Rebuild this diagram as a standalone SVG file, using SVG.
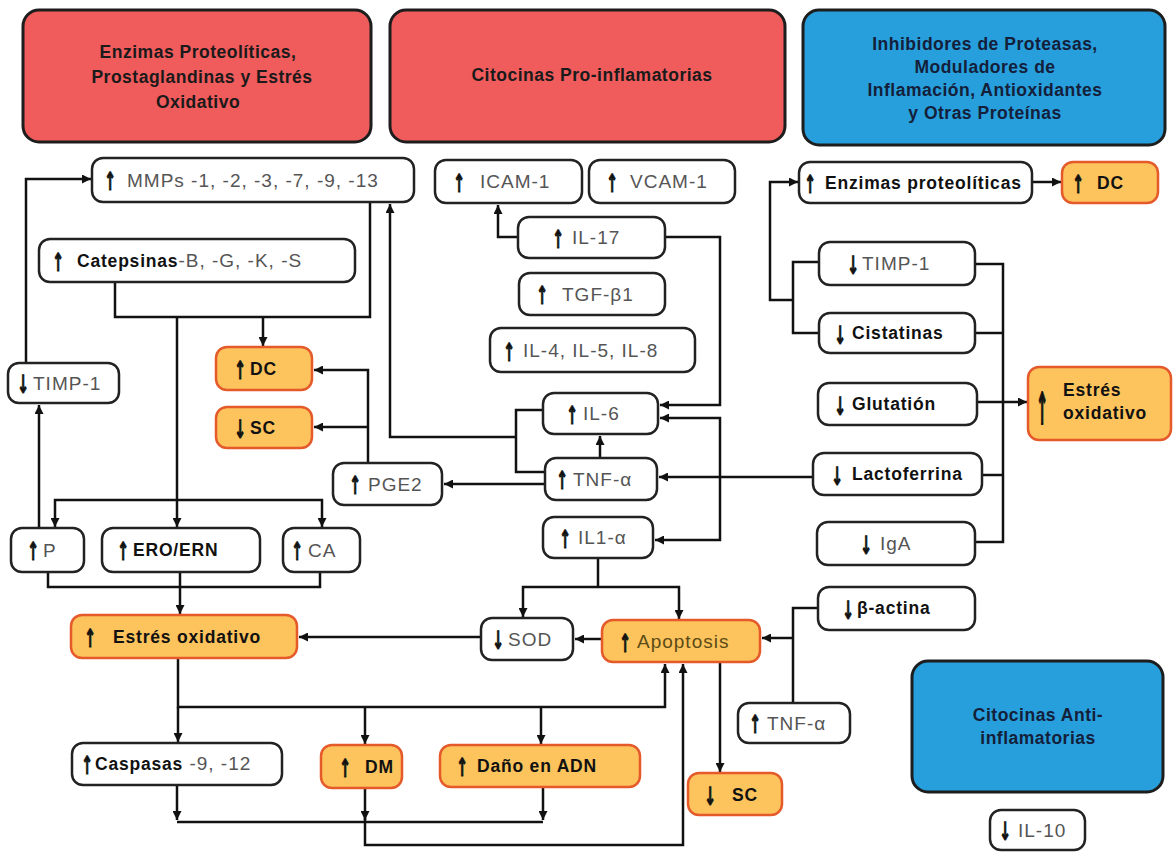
<svg xmlns="http://www.w3.org/2000/svg" width="1173" height="853" viewBox="0 0 1173 853">
<defs>
<marker id="ah" viewBox="0 0 10 10" refX="10" refY="5" markerWidth="9" markerHeight="9" markerUnits="userSpaceOnUse" orient="auto-start-reverse"><path d="M0,0 L10,5 L0,10 z" fill="#111"/></marker>
<style>
.hr{fill:#F05B5C;stroke:#1d1d1d;stroke-width:3}
.hb{fill:#279FDC;stroke:#1d1d1d;stroke-width:3}
.ht{font-family:"Liberation Sans",Arial,sans-serif;font-weight:bold;font-size:17.5px;fill:#1a1a1a;text-anchor:middle;letter-spacing:0.5px}
.hbt{fill:#14203a}
.n{fill:#fff;stroke:#222;stroke-width:2.5}
.o{fill:#FDC35C;stroke:#E55A2B;stroke-width:2.5}
.b{font-family:"Liberation Sans",Arial,sans-serif;font-weight:bold;font-size:17.5px;fill:#111;letter-spacing:0.8px}
.g{font-family:"Liberation Sans",Arial,sans-serif;font-size:19px;fill:#555;letter-spacing:1px}
.ap{font-family:"Liberation Sans",Arial,sans-serif;font-size:19px;fill:#5b4b16;letter-spacing:1px}
.ar{font-family:"DejaVu Sans",sans-serif;font-weight:bold;font-size:20px;fill:#111;stroke:#111;stroke-width:0.8px;text-anchor:middle}
.c{fill:none;stroke:#111;stroke-width:2.5}
.c.e{marker-end:url(#ah)}
.c.s{marker-start:url(#ah)}
</style>
</defs>

<g id="headers">
<g id="h1"><rect class="hr" x="23" y="10" width="348" height="132" rx="16"/>
<text class="ht" x="198" y="58">Enzimas Proteolíticas,</text>
<text class="ht" x="202" y="83">Prostaglandinas y Estrés</text>
<text class="ht" x="198" y="108">Oxidativo</text></g>
<g id="h2"><rect class="hr" x="390" y="10" width="395" height="132" rx="16"/>
<text class="ht" x="592" y="81">Citocinas Pro-inflamatorias</text></g>
<g id="h3"><rect class="hb" x="803" y="10" width="362" height="135" rx="16"/>
<text class="ht hbt" x="985" y="50">Inhibidores de Proteasas,</text>
<text class="ht hbt" x="985" y="73">Moduladores de</text>
<text class="ht hbt" x="985" y="96">Inflamación, Antioxidantes</text>
<text class="ht hbt" x="985" y="119">y Otras Proteínas</text></g>
<g id="h4"><rect class="hb" x="912" y="661" width="251" height="131" rx="16"/>
<text class="ht hbt" x="1038" y="721">Citocinas Anti-</text>
<text class="ht hbt" x="1038" y="744">inflamatorias</text></g>
</g>

<g id="connectors">
<path class="c e" d="M26,363 V179 H91"/>
<path class="c e" d="M39,528 V405"/>
<path class="c" d="M115,282 V317 H370 V202"/>
<path class="c e" d="M263,317 V346"/>
<path class="c e" d="M177,317 V527"/>
<path class="c e s" d="M55,527 V500 H322 V527"/>
<path class="c" d="M48,572 V587 H320 V572"/>
<path class="c e" d="M180,572 V614"/>
<path class="c e" d="M481,637 H299"/>
<path class="c e" d="M602,639 H575"/>
<path class="c" d="M598,558 V587"/>
<path class="c e s" d="M523,617 V587 H679 V619"/>
<path class="c e" d="M178,658 V707 H665 V664"/>
<path class="c e" d="M178,707 V742"/>
<path class="c e" d="M365,707 V744"/>
<path class="c e" d="M541,707 V744"/>
<path class="c e" d="M177,785 V820"/>
<path class="c e" d="M543,787 V820"/>
<path class="c e" d="M365,788 V820"/>
<path class="c" d="M177,822 H543"/>
<path class="c e" d="M365,818 V845 H683 V664"/>
<path class="c e" d="M720,662 V772"/>
<path class="c e" d="M368,463 V370 H314"/>
<path class="c e" d="M368,427 H314"/>
<path class="c e" d="M545,484 H444"/>
<path class="c" d="M543,410 H516 V472 H545"/>
<path class="c e" d="M516,437 H390 V204"/>
<path class="c e" d="M600,458 V436"/>
<path class="c e" d="M518,237 H498 V205"/>
<path class="c e" d="M665,237 H720 V405 H660"/>
<path class="c e s" d="M660,418 H720 V540 H655"/>
<path class="c e" d="M813,477 H659"/>
<path class="c" d="M975,264 H1003 V542 H975"/>
<path class="c" d="M975,333 H1003"/>
<path class="c" d="M982,475 H1003"/>
<path class="c e" d="M977,402 H1027"/>
<path class="c" d="M819,262 H793 V333 H819"/>
<path class="c e" d="M793,300 H770 V182 H798"/>
<path class="c e" d="M1032,182 H1061"/>
<path class="c" d="M818,608 H793 V703"/>
<path class="c e" d="M793,638 H762"/>
</g>

<g id="mmps"><rect class="n" x="92" y="158" width="322" height="44" rx="11"/><text class="ar" transform="translate(110 190) scale(.7 1.25)">↑</text><text class="g" x="127" y="187">MMPs -1, -2, -3, -7, -9, -13</text></g>
<g id="catepsinas"><rect class="n" x="39" y="239" width="316" height="43" rx="11"/><text class="ar" transform="translate(58 271) scale(.7 1.25)">↑</text><text x="77" y="267"><tspan class="b">Catepsinas</tspan><tspan class="g">-B, -G, -K, -S</tspan></text></g>
<g id="timp1-left"><rect class="n" x="8" y="363" width="111" height="40" rx="11"/><text class="ar" transform="translate(23 393) scale(.7 1.25)">↓</text><text class="g" x="33" y="390">TIMP-1</text></g>
<g id="p"><rect class="n" x="11" y="528" width="73" height="44" rx="11"/><text class="ar" transform="translate(33 560) scale(.7 1.25)">↑</text><text class="g" x="43" y="557">P</text></g>
<g id="ero"><rect class="n" x="102" y="528" width="158" height="44" rx="11"/><text class="ar" transform="translate(123 560) scale(.7 1.25)">↑</text><text class="b" x="133" y="556">ERO/ERN</text></g>
<g id="ca"><rect class="n" x="283" y="528" width="77" height="44" rx="11"/><text class="ar" transform="translate(297 560) scale(.7 1.25)">↑</text><text class="g" x="308" y="557">CA</text></g>
<g id="pge2"><rect class="n" x="333" y="463" width="109" height="42" rx="11"/><text class="ar" transform="translate(355 494) scale(.7 1.25)">↑</text><text class="g" x="368" y="491">PGE2</text></g>
<g id="caspasas"><rect class="n" x="72" y="743" width="210" height="42" rx="11"/><text class="ar" transform="translate(87 774) scale(.7 1.25)">↑</text><text x="95" y="770"><tspan class="b">Caspasas</tspan><tspan class="g"> -9, -12</tspan></text></g>
<g id="icam"><rect class="n" x="435" y="160" width="147" height="43" rx="11"/><text class="ar" transform="translate(459 192) scale(.7 1.25)">↑</text><text class="g" x="480" y="188">ICAM-1</text></g>
<g id="vcam"><rect class="n" x="589" y="160" width="146" height="43" rx="11"/><text class="ar" transform="translate(612 192) scale(.7 1.25)">↑</text><text class="g" x="630" y="188">VCAM-1</text></g>
<g id="il17"><rect class="n" x="518" y="217" width="147" height="41" rx="11"/><text class="ar" transform="translate(558 248) scale(.7 1.25)">↑</text><text class="g" x="572" y="244">IL-17</text></g>
<g id="tgf"><rect class="n" x="519" y="273" width="146" height="42" rx="11"/><text class="ar" transform="translate(542 304) scale(.7 1.25)">↑</text><text class="g" x="562" y="301">TGF-β1</text></g>
<g id="il458"><rect class="n" x="490" y="328" width="205" height="44" rx="11"/><text class="ar" transform="translate(509 361) scale(.7 1.25)">↑</text><text class="g" x="523" y="357">IL-4, IL-5, IL-8</text></g>
<g id="il6"><rect class="n" x="543" y="393" width="115" height="41" rx="11"/><text class="ar" transform="translate(572 424) scale(.7 1.25)">↑</text><text class="g" x="583" y="420">IL-6</text></g>
<g id="tnf-mid"><rect class="n" x="545" y="458" width="112" height="42" rx="11"/><text class="ar" transform="translate(562 489) scale(.7 1.25)">↑</text><text class="g" x="573" y="486">TNF-α</text></g>
<g id="il1a"><rect class="n" x="543" y="517" width="110" height="41" rx="11"/><text class="ar" transform="translate(565 548) scale(.7 1.25)">↑</text><text class="g" x="578" y="544">IL1-α</text></g>
<g id="sod"><rect class="n" x="481" y="618" width="92" height="42" rx="11"/><text class="ar" transform="translate(498 649) scale(.7 1.25)">↓</text><text class="g" x="508" y="646">SOD</text></g>
<g id="enzimas"><rect class="n" x="799" y="162" width="233" height="41" rx="11"/><text class="ar" transform="translate(810 193) scale(.7 1.25)">↑</text><text class="b" x="825" y="189">Enzimas proteolíticas</text></g>
<g id="timp1-right"><rect class="n" x="819" y="242" width="156" height="43" rx="11"/><text class="ar" transform="translate(853 274) scale(.7 1.25)">↓</text><text class="g" x="862" y="270">TIMP-1</text></g>
<g id="cistatinas"><rect class="n" x="819" y="313" width="156" height="40" rx="11"/><text class="ar" transform="translate(840 344) scale(.7 1.25)">↓</text><text class="b" x="852" y="339">Cistatinas</text></g>
<g id="glutation"><rect class="n" x="818" y="383" width="159" height="42" rx="11"/><text class="ar" transform="translate(840 415) scale(.7 1.25)">↓</text><text class="b" x="852" y="410">Glutatión</text></g>
<g id="lactoferrina"><rect class="n" x="813" y="453" width="169" height="42" rx="11"/><text class="ar" transform="translate(837 485) scale(.7 1.25)">↓</text><text class="b" x="852" y="480">Lactoferrina</text></g>
<g id="iga"><rect class="n" x="817" y="522" width="158" height="43" rx="11"/><text class="ar" transform="translate(866 554) scale(.7 1.25)">↓</text><text class="g" x="880" y="550">IgA</text></g>
<g id="bactina"><rect class="n" x="818" y="587" width="157" height="43" rx="11"/><text class="ar" transform="translate(848 619) scale(.7 1.25)">↓</text><text class="b" x="857" y="614">β-actina</text></g>
<g id="tnf-right"><rect class="n" x="738" y="703" width="112" height="40" rx="11"/><text class="ar" transform="translate(755 733) scale(.7 1.25)">↑</text><text class="g" x="767" y="730">TNF-α</text></g>
<g id="il10"><rect class="n" x="990" y="810" width="95" height="40" rx="11"/><text class="ar" transform="translate(1005 840) scale(.7 1.25)">↓</text><text class="g" x="1018" y="837">IL-10</text></g>

<g id="dc-left"><rect class="o" x="216" y="347" width="96" height="43" rx="11"/><text class="ar" transform="translate(240 379) scale(.7 1.25)">↑</text><text class="b" x="250" y="375">DC</text></g>
<g id="sc-left"><rect class="o" x="216" y="407" width="96" height="41" rx="11"/><text class="ar" transform="translate(240 438) scale(.7 1.25)">↓</text><text class="b" x="250" y="434">SC</text></g>
<g id="estres-left"><rect class="o" x="71" y="615" width="226" height="43" rx="11"/><text class="ar" transform="translate(90 647) scale(.7 1.25)">↑</text><text class="b" x="113" y="643">Estrés oxidativo</text></g>
<g id="apoptosis"><rect class="o" x="602" y="620" width="158" height="42" rx="11"/><text class="ar" transform="translate(625 652) scale(.7 1.25)">↑</text><text class="ap" x="637" y="648">Apoptosis</text></g>
<g id="dm"><rect class="o" x="321" y="745" width="81" height="43" rx="11"/><text class="ar" transform="translate(345 777) scale(.7 1.25)">↑</text><text class="b" x="365" y="773">DM</text></g>
<g id="dano"><rect class="o" x="440" y="745" width="200" height="42" rx="11"/><text class="ar" transform="translate(462 776) scale(.7 1.25)">↑</text><text class="b" x="477" y="772">Daño en ADN</text></g>
<g id="sc-right"><rect class="o" x="688" y="773" width="94" height="42" rx="11"/><text class="ar" transform="translate(710 805) scale(.7 1.25)">↓</text><text class="b" x="732" y="801">SC</text></g>
<g id="dc-right"><rect class="o" x="1062" y="162" width="96" height="41" rx="11"/><text class="ar" transform="translate(1078 193) scale(.7 1.25)">↑</text><text class="b" x="1097" y="189">DC</text></g>
<g id="estres-right"><rect class="o" x="1028" y="367" width="143" height="73" rx="11"/><text class="ar" transform="translate(1042 424) scale(.7 2.2)">↑</text><text class="b" x="1063" y="396">Estrés</text><text class="b" x="1063" y="419">oxidativo</text></g>
</svg>
